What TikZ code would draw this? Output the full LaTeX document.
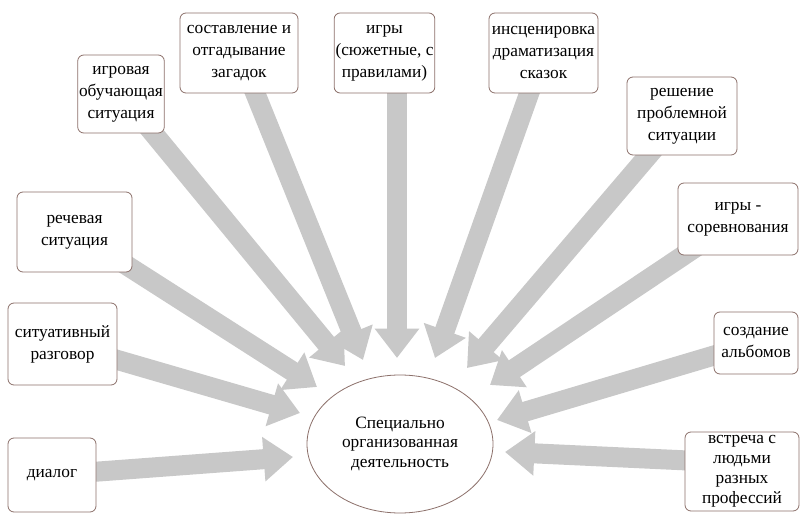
\documentclass[tikz,border=0pt]{standalone}
\usepackage{fontspec}
\setmainfont{Liberation Serif}
\newfontfamily\serifru{Liberation Serif}
\usetikzlibrary{shapes.geometric,arrows.meta}
\pgfdeclarelayer{back}
\pgfdeclarelayer{arrowlayer}
\pgfsetlayers{back,arrowlayer,main}
\definecolor{boxc}{RGB}{140,112,106}
\definecolor{arrc}{RGB}{200,200,200}
\tikzset{
  box/.style={draw=boxc, line width=0.6pt, rounded corners=4.5pt, fill=white,
    align=center, inner sep=1pt, font=\serifru\fontsize{13}{16.5}\selectfont},
  bigarrow/.style={draw=arrc, line width=15pt,
    -{Triangle[length=22pt,width=32pt]}}
}
\begin{document}
\begin{tikzpicture}[x=0.75pt,y=-0.75pt]
\begin{pgfonlayer}{back}
\fill[white] (0,0) rectangle (800,516);
\end{pgfonlayer}
\useasboundingbox (0,0) rectangle (800,516);

\node[box, minimum width=66pt, minimum height=55.5pt] (b1) at (52,475) {диалог};
\node[box, minimum width=81.75pt, minimum height=61.5pt] (b2) at (62.5,344) {ситуативный\\разговор};
\node[box, minimum width=86.25pt, minimum height=60pt] (b3) at (74.5,232) {речевая\\ситуация};
\node[box, minimum width=63pt, minimum height=58.5pt] (b4) at (121,94) {игровая\\обучающая\\ситуация};
\node[box, minimum width=88.5pt, minimum height=60pt] (b5) at (239,53) {составление и\\отгадывание\\загадок};
\node[box, minimum width=72.75pt, minimum height=60pt] (b6) at (384.5,53) {игры\\(сюжетные, с\\правилами)};
\node[box, minimum width=81.75pt, minimum height=60pt] (b7) at (543.5,53) {инсценировка\\драматизация\\сказок};
\node[box, minimum width=82.5pt, minimum height=58.5pt] (b8) at (682,116) {решение\\проблемной\\ситуации};
\node[box, minimum width=90pt, minimum height=54pt] (b9) at (738,219) {игры -\\соревнования};
\node[box, minimum width=63pt, minimum height=46.5pt] (b10) at (756,343) {создание\\альбомов};
\node[box, minimum width=85.5pt, minimum height=59.25pt, font=\serifru\fontsize{13}{15}\selectfont] (b11) at (742,471.5) {встреча с\\людьми\\разных\\профессий};

\node[ellipse, draw=boxc, line width=0.6pt, fill=white, minimum width=139.5pt, minimum height=103.5pt,
  align=center, inner sep=0pt, font=\serifru\fontsize{13}{15.5}\selectfont] (c) at (400,444)
  {\raisebox{-7pt}{\shortstack{Специально\\[3pt]организованная\\[3pt]деятельность}}};

\coordinate (t1) at (293,457);
\coordinate (t2) at (300,413);
\coordinate (t3) at (317,387);
\coordinate (t4) at (345,366);
\coordinate (t5) at (363,360);
\coordinate (t6) at (397,358);
\coordinate (t7) at (435,358);
\coordinate (t8) at (467,368);
\coordinate (t9) at (490,385);
\coordinate (t10) at (497,420);
\coordinate (t11) at (505,452);
\coordinate (s6) at (397,60);
\coordinate (s11) at (720,462);

\begin{pgfonlayer}{arrowlayer}
\draw[bigarrow] (b1.center) -- (t1);
\draw[bigarrow] (b2.center) -- (t2);
\draw[bigarrow] (b3.center) -- (t3);
\draw[bigarrow] (b4.center) -- (t4);
\draw[bigarrow] (b5.center) -- (t5);
\draw[bigarrow] (s6) -- (t6);
\draw[bigarrow] (b7.center) -- (t7);
\draw[bigarrow] (b8.center) -- (t8);
\draw[bigarrow] (b9.center) -- (t9);
\draw[bigarrow] (b10.center) -- (t10);
\draw[bigarrow] (s11) -- (t11);
\end{pgfonlayer}
\end{tikzpicture}
\end{document}
